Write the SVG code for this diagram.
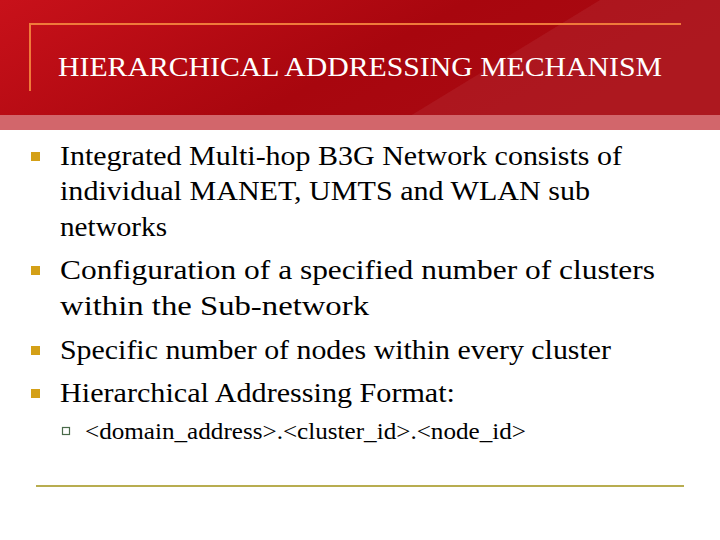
<svg xmlns="http://www.w3.org/2000/svg" width="720" height="540" viewBox="0 0 720 540">
<defs>
<linearGradient id="hdr" x1="0" y1="0" x2="1" y2="0.3"><stop offset="0" stop-color="#c8111a"/><stop offset="0.6" stop-color="#a8060e"/><stop offset="1" stop-color="#a80a12"/></linearGradient>
</defs>
<style>
.t{font-family:"Liberation Serif",serif;font-size:28px;fill:#000}
.b{fill:#d4a017}
</style>
<rect width="720" height="540" fill="#fff"/>
<rect width="720" height="116" fill="url(#hdr)"/>
<polygon points="600,0 720,0 720,116 410,116" fill="#fff" opacity="0.06"/>
<rect y="115" width="720" height="15" fill="#d2666b"/>
<polyline points="30,91 30,24 681,24" fill="none" stroke="#f07a3a" stroke-width="2"/>
<text x="58" y="76" font-family="Liberation Serif,serif" font-size="27" fill="#fff" textLength="604" lengthAdjust="spacingAndGlyphs">HIERARCHICAL ADDRESSING MECHANISM</text>
<g id="bullets">
<rect class="b" x="31" y="152" width="9" height="9"/>
<rect class="b" x="31" y="266" width="9" height="9"/>
<rect class="b" x="31" y="346" width="9" height="9"/>
<rect class="b" x="31" y="389" width="9" height="9"/>
<rect x="62.5" y="427.5" width="7" height="7" fill="none" stroke="#4a6a4a" stroke-width="1.2"/>
</g>
<text class="t" x="60" y="165" textLength="562" lengthAdjust="spacingAndGlyphs">Integrated Multi-hop B3G Network consists of</text>
<text class="t" x="60" y="200" textLength="530" lengthAdjust="spacingAndGlyphs">individual MANET, UMTS and WLAN sub</text>
<text class="t" x="60" y="236" textLength="107" lengthAdjust="spacingAndGlyphs">networks</text>
<text class="t" x="60" y="279" textLength="595" lengthAdjust="spacingAndGlyphs">Configuration of a specified number of clusters</text>
<text class="t" x="60" y="315" textLength="309" lengthAdjust="spacingAndGlyphs">within the Sub-network</text>
<text class="t" x="60" y="359" textLength="551" lengthAdjust="spacingAndGlyphs">Specific number of nodes within every cluster</text>
<text class="t" x="60" y="402" textLength="395" lengthAdjust="spacingAndGlyphs">Hierarchical Addressing Format:</text>
<text x="85" y="439" font-family="Liberation Serif,serif" font-size="23" textLength="441" lengthAdjust="spacingAndGlyphs">&lt;domain_address&gt;.&lt;cluster_id&gt;.&lt;node_id&gt;</text>
<line x1="36" y1="486" x2="684" y2="486" stroke="#b8ad50" stroke-width="2"/>
</svg>
